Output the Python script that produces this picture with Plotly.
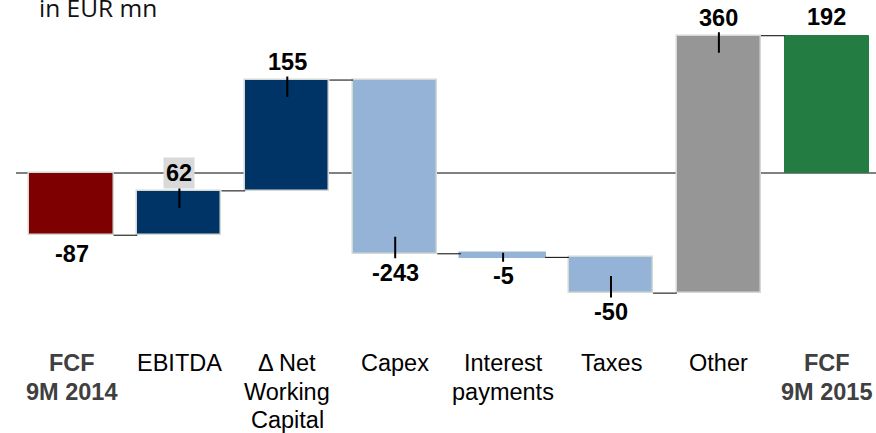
import plotly.graph_objects as go

# ---------------- data ----------------
categories = ["FCF<br>9M 2014", "EBITDA", "Δ Net<br>Working<br>Capital", "Capex",
              "Interest<br>payments", "Taxes", "Other", "FCF<br>9M 2015"]
values = [-87, 62, 155, -243, -5, -50, 360, 192]
measures = ["absolute", "relative", "relative", "relative",
            "relative", "relative", "relative", "total"]
value_labels = ["-87", "62", "155", "-243", "-5", "-50", "360", "192"]
unit_label = "in EUR mn"

# ---------------- style ----------------
bar_colors = ["#7F0000", "#003366", "#003366", "#95B3D7",
              "#95B3D7", "#95B3D7", "#969696", "#237D42"]
border_colors = ["#D3DAD3", "#D3DAD3", "#D3DAD3", "#D3DAD3",
                 "#95B3D7", "#D3DAD3", "#D3DAD3", "#237D42"]
border_widths = [1.5, 1.5, 1.5, 1.5, 3.5, 1.5, 1.5, 1]
bold_cats = [True, False, False, False, False, False, False, True]
label_bg = {1: "#D9D9D9"}
FONT = "Arial, 'Liberation Sans', sans-serif"
W, H = 876, 433
X0_PX, STEP_PX = 71.5, 107.9     # first category centre, spacing
ZERO_PX, PPU = 173.0, 0.715      # zero-line pixel, pixels per unit
BAR_W = 0.78

# ---------------- compute waterfall geometry ----------------
bases, heights, ends = [], [], []
cum = 0
for v, m in zip(values, measures):
    if m == "absolute":
        bases.append(0); heights.append(v); cum = v
    elif m == "relative":
        bases.append(cum); heights.append(v); cum += v
    else:
        bases.append(0); heights.append(cum)
    ends.append(cum)

xs = list(range(len(categories)))
x_range = [-X0_PX / STEP_PX, (W - X0_PX) / STEP_PX]
y_range = [-(H - ZERO_PX) / PPU, ZERO_PX / PPU]

fig = go.Figure()

# connector lines
cx, cy = [], []
for i in range(len(xs) - 1):
    cx += [xs[i] + BAR_W / 2, xs[i + 1] - BAR_W / 2, None]
    cy += [ends[i], ends[i], None]
fig.add_trace(go.Scatter(x=cx, y=cy, mode="lines",
                         line=dict(color="black", width=1),
                         hoverinfo="skip", showlegend=False))

fig.add_trace(go.Bar(x=xs, y=heights, base=bases, width=BAR_W,
                     marker=dict(color=bar_colors,
                                 line=dict(color=border_colors, width=border_widths)),
                     showlegend=False, hoverinfo="skip"))

annotations = []
# value labels
for i, (v, m, lab) in enumerate(zip(values, measures, value_labels)):
    end = ends[i]
    positive = heights[i] > 0
    common = dict(x=xs[i], y=end, xref="x", yref="y", text="<b>%s</b>" % lab,
                  font=dict(family=FONT, size=23.5, color="black"))
    if i in label_bg:
        common.update(bgcolor=label_bg[i], borderpad=2)
    if m == "relative":
        inward = min(17.0, abs(v) * PPU + 1)
        if positive:
            yshift = -inward
            ay = -(18 + inward)
        else:
            yshift = inward
            ay = 19 + inward
        annotations.append(dict(common, showarrow=True, arrowhead=0,
                                arrowwidth=2, arrowcolor="black",
                                ax=0, ay=ay, yshift=yshift,
                                standoff=0, startstandoff=0))
    else:
        annotations.append(dict(common, showarrow=False, yanchor="middle",
                                yshift=18.5 if positive else -18.5))

# category labels (one annotation per line for tight spacing)
for i, cat in enumerate(categories):
    for k, line in enumerate(cat.split("<br>")):
        ypx = 363 + 28.5 * k
        txt = "<b>%s</b>" % line if bold_cats[i] else line
        annotations.append(dict(x=xs[i], xref="x", y=1 - ypx / H, yref="paper",
                                text=txt, showarrow=False, yanchor="middle",
                                xanchor="center",
                                font=dict(family=FONT, size=23.5,
                                          color="#404040" if bold_cats[i] else "black")))

# unit label
annotations.append(dict(x=37 / W, xref="paper", y=1, yref="paper", xanchor="left",
                        yanchor="top", yshift=11, text=unit_label, showarrow=False,
                        font=dict(family="'Open Sans', sans-serif", size=24.5, color="#111111")))

fig.update_layout(
    width=W, height=H, margin=dict(l=0, r=0, t=0, b=0),
    paper_bgcolor="white", plot_bgcolor="white",
    xaxis=dict(range=x_range, visible=False, fixedrange=True),
    yaxis=dict(range=y_range, visible=False, fixedrange=True),
    annotations=annotations,
    shapes=[dict(type="line", xref="x", yref="y",
                 x0=(16 - X0_PX) / STEP_PX, x1=x_range[1] + 0.2, y0=0, y1=0,
                 line=dict(color="#808080", width=2), layer="below")],
    bargap=0,
)

fig.write_html("out.html")
